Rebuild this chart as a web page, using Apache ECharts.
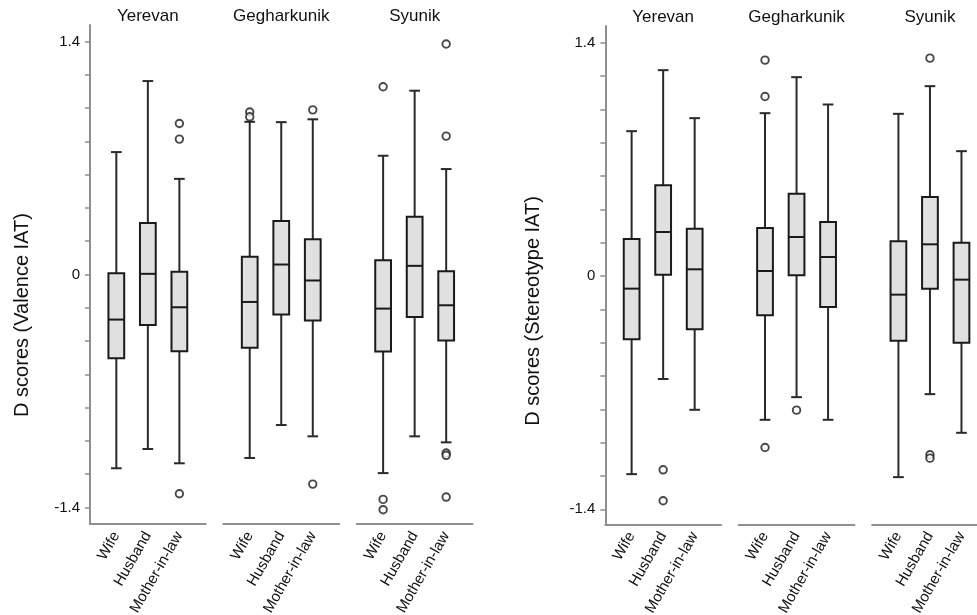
<!DOCTYPE html>
<html>
<head>
<meta charset="utf-8">
<script src="https://cdn.jsdelivr.net/npm/echarts@6/dist/echarts.min.js"></script>
<style>
  html, body { margin: 0; padding: 0; background: #fff; }
  #chart { width: 977px; height: 615px; }
</style>
</head>
<body>
<div id="chart"></div>
<script>
// Facets and groups
const regions = ['Yerevan', 'Gegharkunik', 'Syunik'];
const roles = ['Wife', 'Husband', 'Mother-in-law'];

// Y axis ticks (every 0.2) and the labelled ones
const yTicks = [-1.4, -1.2, -1.0, -0.8, -0.6, -0.4, -0.2, 0, 0.2, 0.4, 0.6, 0.8, 1.0, 1.2, 1.4];
const yTickLabels = [-1.4, 0, 1.4];

// Valence IAT: per role [lower whisker, Q1, median, Q3, upper whisker]
const valYerevan  = [[-1.165, -0.504, -0.271, 0.008, 0.736], [-1.049, -0.303, 0.004, 0.309, 1.163], [-1.135, -0.461, -0.197, 0.016, 0.575]];
const valGeghark  = [[-1.103, -0.441, -0.165, 0.106, 0.918], [-0.905, -0.241, 0.060, 0.321, 0.916], [-0.973, -0.277, -0.036, 0.212, 0.933]];
const valSyunik   = [[-1.194, -0.463, -0.205, 0.086, 0.714], [-0.973, -0.255, 0.052, 0.347, 1.105], [-1.009, -0.397, -0.185, 0.020, 0.634]];
// Valence IAT outliers per role
const valYerevanOut = [[], [], [0.908, 0.814, -1.318]];
const valGegharkOut = [[0.977, 0.948], [], [0.990, -1.260]];
const valSyunikOut  = [[1.129, -1.352, -1.414], [], [1.386, 0.832, -1.073, -1.087, -1.338]];

// Stereotype IAT: per role [lower whisker, Q1, median, Q3, upper whisker]
const steYerevan  = [[-1.189, -0.380, -0.076, 0.222, 0.869], [-0.618, 0.008, 0.264, 0.544, 1.235], [-0.803, -0.320, 0.040, 0.284, 0.947]];
const steGeghark  = [[-0.863, -0.236, 0.030, 0.288, 0.977], [-0.727, 0.004, 0.234, 0.493, 1.193], [-0.863, -0.186, 0.114, 0.324, 1.029]];
const steSyunik   = [[-1.207, -0.388, -0.112, 0.208, 0.973], [-0.709, -0.076, 0.190, 0.474, 1.139], [-0.941, -0.400, -0.022, 0.200, 0.749]];
// Stereotype IAT outliers per role
const steYerevanOut = [[], [-1.163, -1.349], []];
const steGegharkOut = [[1.295, 1.077, -1.029], [-0.805], []];
const steSyunikOut  = [[], [1.307, -1.073, -1.093], []];

const panels = [
  { name: 'D scores (Valence IAT)', left: 90, top: 25, height: 499, min: -1.5, max: 1.5,
    boxes: [valYerevan, valGeghark, valSyunik], outs: [valYerevanOut, valGegharkOut, valSyunikOut],
    nameX: 22, nameY: 315 },
  { name: 'D scores (Stereotype IAT)', left: 605.3, top: 26, height: 498.3, min: -1.49, max: 1.5,
    boxes: [steYerevan, steGeghark, steSyunik], outs: [steYerevanOut, steGegharkOut, steSyunikOut],
    nameX: 533, nameY: 311 }
];

const FONT = 'Liberation Sans, Arial, sans-serif';
const AXIS_GRAY = '#8f8f8f';
const INK = '#1a1a1a';
const WHISKER = '#2a2a2a';
const SEG_W = 115.7;      // width of one facet
const SEG_STEP = 133.4;   // facet spacing
const X_MIN = -0.835, X_MAX = 2.835;
const BOX_W = 0.5, CAP_W = 0.34;   // in x-axis units

function renderBox(params, api) {
  const x = api.value(0);
  const lo = api.coord([x, api.value(1)]);
  const q1 = api.coord([x, api.value(2)]);
  const md = api.coord([x, api.value(3)]);
  const q3 = api.coord([x, api.value(4)]);
  const hi = api.coord([x, api.value(5)]);
  const cx = lo[0];
  const half = api.size([BOX_W, 0])[0] / 2;
  const capHalf = api.size([CAP_W, 0])[0] / 2;
  const lineStyle = { stroke: WHISKER, lineWidth: 2, fill: null };
  return {
    type: 'group',
    children: [
      { type: 'line', shape: { x1: cx, y1: q3[1], x2: cx, y2: hi[1] }, style: lineStyle },
      { type: 'line', shape: { x1: cx, y1: q1[1], x2: cx, y2: lo[1] }, style: lineStyle },
      { type: 'line', shape: { x1: cx - capHalf, y1: hi[1], x2: cx + capHalf, y2: hi[1] }, style: lineStyle },
      { type: 'line', shape: { x1: cx - capHalf, y1: lo[1], x2: cx + capHalf, y2: lo[1] }, style: lineStyle },
      { type: 'rect', shape: { x: cx - half, y: q3[1], width: half * 2, height: q1[1] - q3[1] },
        style: { fill: '#e0e0e0', stroke: INK, lineWidth: 2 } },
      { type: 'line', shape: { x1: cx - half, y1: md[1], x2: cx + half, y2: md[1] },
        style: { stroke: INK, lineWidth: 2 } }
    ]
  };
}

const grid = [], xAxis = [], yAxis = [], series = [], graphic = [];

panels.forEach((p, pi) => {
  graphic.push({
    type: 'text', x: p.nameX, y: p.nameY, rotation: Math.PI / 2,
    style: { text: p.name, font: '20px ' + FONT, fill: '#111', align: 'center', verticalAlign: 'middle' }
  });
  regions.forEach((reg, ri) => {
    const gi = grid.length;
    grid.push({ left: p.left + ri * SEG_STEP, top: p.top, width: SEG_W, height: p.height, outerBoundsMode: 'none' });
    // bottom axis: group labels
    xAxis.push({
      type: 'value', gridIndex: gi, min: X_MIN, max: X_MAX, position: 'bottom',
      axisLine: { show: true, onZero: false, lineStyle: { color: AXIS_GRAY, width: 2 } },
      axisTick: { show: false }, splitLine: { show: false },
      axisLabel: {
        customValues: [0, 1, 2], formatter: v => roles[Math.round(v)], rotate: 60, margin: 9,
        color: '#111', fontSize: 15, fontFamily: FONT
      }
    });
    // top axis: facet title
    xAxis.push({
      type: 'value', gridIndex: gi, min: X_MIN, max: X_MAX, position: 'top',
      name: reg, nameLocation: 'middle', nameGap: 0,
      nameTextStyle: { color: '#111', fontSize: 17, fontFamily: FONT },
      axisLine: { show: false, onZero: false }, axisTick: { show: false }, axisLabel: { show: false }, splitLine: { show: false }
    });
    yAxis.push({
      type: 'value', gridIndex: gi, min: p.min, max: p.max, show: ri === 0,
      axisLine: { show: true, onZero: false, lineStyle: { color: AXIS_GRAY, width: 2 } },
      axisTick: { show: true, customValues: yTicks, length: 5, lineStyle: { color: AXIS_GRAY, width: 1.5 } },
      axisLabel: { customValues: yTickLabels, formatter: v => String(v), margin: 10,
        color: '#111', fontSize: 15, fontFamily: FONT },
      splitLine: { show: false }
    });
    const boxData = p.boxes[ri].map((s, i) => [i].concat(s));
    series.push({
      type: 'custom', xAxisIndex: gi * 2, yAxisIndex: gi, renderItem: renderBox,
      data: boxData, encode: { x: 0, y: [1, 2, 3, 4, 5] }, silent: true
    });
    const outData = [];
    p.outs[ri].forEach((vals, i) => vals.forEach(v => outData.push([i, v])));
    series.push({
      type: 'scatter', xAxisIndex: gi * 2, yAxisIndex: gi, data: outData,
      symbol: 'circle', symbolSize: 7.5, silent: true, z: 5,
      itemStyle: { color: '#fff', borderColor: INK, borderWidth: 1.9 }
    });
  });
});

const chart = echarts.init(document.getElementById('chart'), null, { renderer: 'canvas' });
chart.setOption({
  animation: false,
  backgroundColor: '#fff',
  grid, xAxis, yAxis, series, graphic
});
</script>
</body>
</html>
